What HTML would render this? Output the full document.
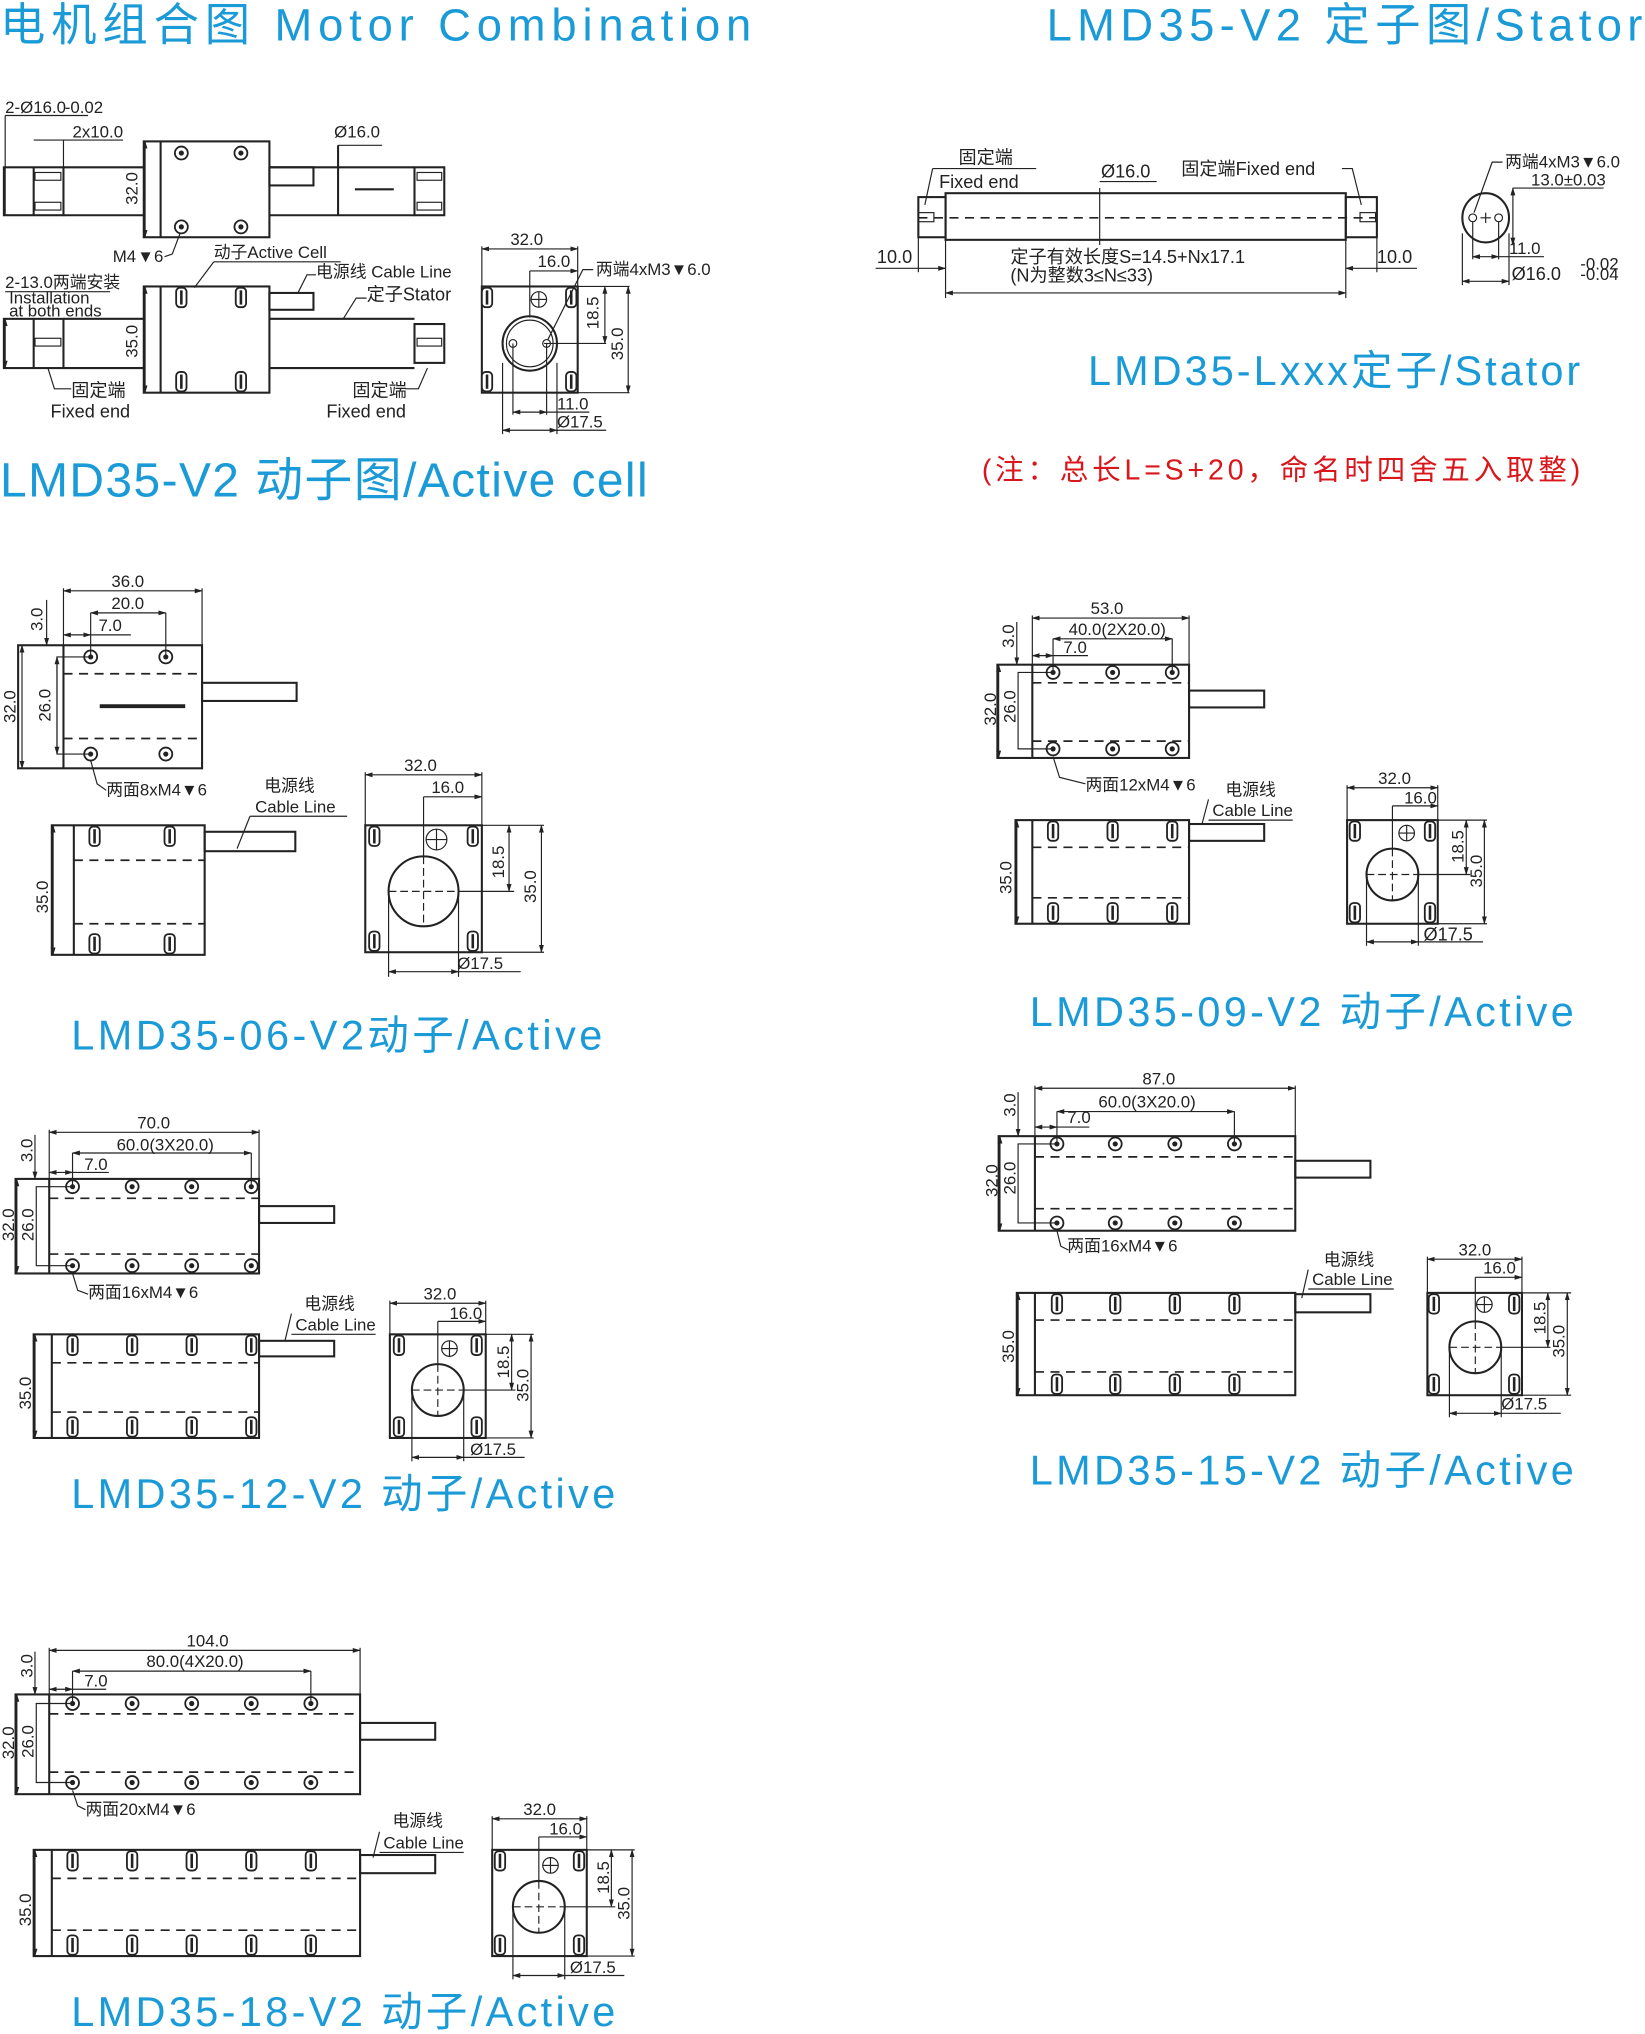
<!DOCTYPE html>
<html><head><meta charset="utf-8">
<style>
html,body{margin:0;padding:0;background:#fff;}
svg{display:block;}
.t{font-family:"Liberation Sans","Noto Sans CJK SC",sans-serif;fill:#1a9ad7;}
.d{font-family:"Liberation Sans Narrow","Liberation Sans","Noto Sans CJK SC",sans-serif;font-size:13px;fill:#222;}
.s{font-family:"Liberation Sans","Noto Sans CJK SC",sans-serif;font-size:14px;fill:#222;}
.l{stroke:#222;stroke-width:1.6;fill:none;}
.th{stroke:#222;stroke-width:0.9;fill:none;}
.da{stroke:#222;stroke-width:1.3;fill:none;stroke-dasharray:7,5;}
.cl{stroke:#222;stroke-width:0.9;fill:none;stroke-dasharray:6,3;}
</style></head><body>
<svg width="1645" height="2034" viewBox="0 0 1270 1570" xmlns="http://www.w3.org/2000/svg">
<defs>
<marker id="a" viewBox="0 0 10 10" refX="9" refY="5" markerWidth="7" markerHeight="7" orient="auto-start-reverse"><path d="M0,2 L10,5 L0,8 z" fill="#222"/></marker>
<g id="h"><circle r="5" fill="#fff" stroke="#222" stroke-width="1.4"/><circle r="2" fill="#222"/></g>
<g id="sd"><rect x="-4" y="0" width="8" height="15" rx="3" fill="#fff" stroke="#222" stroke-width="1.4"/><line x1="0" y1="2" x2="0" y2="13" stroke="#222" stroke-width="2"/></g>
<g id="su"><rect x="-4" y="-15" width="8" height="15" rx="3" fill="#fff" stroke="#222" stroke-width="1.4"/><line x1="0" y1="-13" x2="0" y2="-2" stroke="#222" stroke-width="2"/></g>
</defs>

<!-- TITLES -->
<text class="t" x="0" y="31" font-size="35" textLength="580" lengthAdjust="spacing">电机组合图 Motor Combination</text>
<text class="t" x="808" y="31" font-size="35" textLength="460" lengthAdjust="spacing">LMD35-V2 定子图/Stator</text>
<text class="t" x="840" y="297" font-size="32" textLength="380" lengthAdjust="spacing">LMD35-Lxxx定子/Stator</text>
<text x="758" y="370" font-size="22" fill="#d8161b" font-family="Liberation Sans,'Noto Sans CJK SC',sans-serif" textLength="462" lengthAdjust="spacing">(注：总长L=S+20，命名时四舍五入取整)</text>
<text class="t" x="0" y="383" font-size="37" textLength="500" lengthAdjust="spacing">LMD35-V2 动子图/Active cell</text>
<text class="t" x="55" y="810" font-size="32" textLength="410" lengthAdjust="spacing">LMD35-06-V2动子/Active</text>
<text class="t" x="795" y="792" font-size="32" textLength="420" lengthAdjust="spacing">LMD35-09-V2 动子/Active</text>
<text class="t" x="55" y="1164" font-size="32" textLength="420" lengthAdjust="spacing">LMD35-12-V2 动子/Active</text>
<text class="t" x="795" y="1146" font-size="32" textLength="420" lengthAdjust="spacing">LMD35-15-V2 动子/Active</text>
<text class="t" x="55" y="1564" font-size="32" textLength="420" lengthAdjust="spacing">LMD35-18-V2 动子/Active</text>

<!-- MOTOR COMBINATION top view -->
<g>
<rect class="l" x="3" y="129" width="46" height="37"/><line class="l" x1="26" y1="129" x2="26" y2="166"/>
<line class="l" x1="49" y1="129" x2="111" y2="129"/><line class="l" x1="49" y1="166" x2="111" y2="166"/>
<rect class="l" x="111" y="109" width="97" height="74"/><line class="l" x1="124" y1="109" x2="124" y2="183"/>
<rect class="l" x="208" y="129" width="34" height="14"/>
<line class="l" x1="208" y1="129" x2="320" y2="129"/><line class="l" x1="208" y1="166" x2="320" y2="166"/>
<rect class="l" x="320" y="129" width="23" height="37"/>
<line class="l" x1="261" y1="112" x2="261" y2="166"/><line class="th" x1="261" y1="112" x2="295" y2="112"/>
<line class="l" x1="274" y1="146" x2="304" y2="146"/>
<use href="#h" x="140" y="118"/><use href="#h" x="186" y="118"/><use href="#h" x="140" y="175"/><use href="#h" x="186" y="175"/>
<rect class="th" x="27" y="133" width="20" height="6"/><rect class="th" x="27" y="156" width="20" height="6"/>
<rect class="th" x="322" y="133" width="19" height="6"/><rect class="th" x="322" y="156" width="19" height="6"/>
<line class="th" x1="4" y1="89" x2="4" y2="166"/><line class="th" x1="4" y1="89" x2="68" y2="89"/>
<text class="d" x="4" y="87" font-size="11">2-Ø16.0</text><text class="d" x="50" y="87" font-size="7" fill="#777">-0.02</text>
<line class="th" x1="26" y1="108" x2="95" y2="108"/><line class="th" x1="49" y1="108" x2="49" y2="129"/>
<text class="d" x="56" y="106">2x10.0</text>
<line class="th" x1="112" y1="109" x2="112" y2="183" marker-start="url(#a)" marker-end="url(#a)"/>
<text class="d" transform="translate(106,158) rotate(-90)">32.0</text>
<text class="d" x="258" y="106">Ø16.0</text>
<text class="d" x="87" y="202">M4</text><text class="d" x="106" y="202">▼6</text>
<path class="th" d="M127,198 L133,196 L139,180"/>
</g>
<!-- motor combination bottom view -->
<g>
<rect class="l" x="3" y="246" width="46" height="38"/><line class="l" x1="26" y1="246" x2="26" y2="284"/>
<line class="l" x1="49" y1="246" x2="111" y2="246"/><line class="l" x1="49" y1="284" x2="111" y2="284"/>
<rect class="l" x="111" y="221" width="97" height="82"/><line class="l" x1="124" y1="221" x2="124" y2="303"/>
<rect class="l" x="208" y="226" width="34" height="13"/>
<line class="l" x1="208" y1="246" x2="320" y2="246"/><line class="l" x1="208" y1="284" x2="320" y2="284"/>
<rect class="l" x="320" y="250" width="23" height="30"/>
<use href="#sd" x="140" y="222"/><use href="#sd" x="186" y="222"/><use href="#su" x="140" y="302"/><use href="#su" x="186" y="302"/>
<rect class="th" x="27" y="261" width="20" height="6"/><rect class="th" x="322" y="261" width="19" height="6"/>
<line class="th" x1="112" y1="221" x2="112" y2="303" marker-start="url(#a)" marker-end="url(#a)"/>
<text class="d" transform="translate(106,276) rotate(-90)">35.0</text>
<line class="th" x1="4" y1="246" x2="4" y2="284" marker-start="url(#a)" marker-end="url(#a)"/>
<text class="d" x="4" y="222" font-size="11">2-13.0两端安装</text><line class="th" x1="4" y1="225" x2="85" y2="225"/>
<text class="d" x="7" y="234" font-size="10">Installation</text><text class="d" x="7" y="244" font-size="10">at both ends</text>
<text class="d" x="165" y="199">动子Active Cell</text><line class="th" x1="165" y1="202" x2="263" y2="202"/><path class="th" d="M165,202 L150,222"/>
<text class="d" x="244" y="214">电源线 Cable Line</text><path class="th" d="M244,212 L237,212 L230,226"/>
<text class="s" x="283" y="232">定子Stator</text><path class="th" d="M283,230 L275,230 L265,246"/>
<path class="th" d="M37,284 L42,300 L55,300"/><text class="s" x="55" y="306">固定端</text><text class="s" x="39" y="322" font-size="15">Fixed end</text>
<path class="th" d="M330,284 L323,300 L313,300"/><text class="s" x="272" y="306">固定端</text><text class="s" x="252" y="322" font-size="15">Fixed end</text>
</g>
<!-- motor combination end view -->
<g>
<rect class="l" x="372" y="221" width="74" height="82"/>
<circle class="l" cx="409" cy="265" r="21"/><circle class="th" cx="409" cy="265" r="18"/>
<circle class="th" cx="396" cy="265" r="3"/><circle class="th" cx="422" cy="265" r="3"/>
<circle class="th" cx="416" cy="231" r="6"/><line class="th" x1="410" y1="231" x2="422" y2="231"/><line class="th" x1="416" y1="225" x2="416" y2="237"/>
<use href="#sd" x="376" y="222"/><use href="#sd" x="441" y="222"/><use href="#su" x="376" y="302"/><use href="#su" x="441" y="302"/>
<line class="th" x1="372" y1="192" x2="446" y2="192" marker-start="url(#a)" marker-end="url(#a)"/><line class="th" x1="372" y1="190" x2="372" y2="221"/><line class="th" x1="446" y1="190" x2="446" y2="221"/>
<text class="d" x="394" y="189">32.0</text>
<line class="th" x1="409" y1="209" x2="446" y2="209" marker-end="url(#a)"/><line class="th" x1="409" y1="209" x2="409" y2="245"/>
<text class="d" x="415" y="206">16.0</text>
<text class="d" x="460" y="212" font-size="14">两端4xM3▼6.0</text><path class="th" d="M458,208 L450,208 L423,262"/>
<line class="th" x1="446" y1="221" x2="486" y2="221"/><line class="th" x1="446" y1="303" x2="486" y2="303"/><line class="th" x1="420" y1="265" x2="468" y2="265"/>
<line class="th" x1="467" y1="221" x2="467" y2="265" marker-start="url(#a)" marker-end="url(#a)"/><text class="d" transform="translate(462,254) rotate(-90)">18.5</text>
<line class="th" x1="485" y1="221" x2="485" y2="303" marker-start="url(#a)" marker-end="url(#a)"/><text class="d" transform="translate(481,278) rotate(-90)">35.0</text>
<line class="th" x1="396" y1="265" x2="396" y2="320"/><line class="th" x1="422" y1="265" x2="422" y2="320"/>
<line class="th" x1="396" y1="318" x2="422" y2="318" marker-start="url(#a)" marker-end="url(#a)"/><text class="d" x="430" y="316">11.0</text><line class="th" x1="422" y1="318" x2="455" y2="318"/>
<line class="th" x1="388" y1="280" x2="388" y2="335"/><line class="th" x1="430" y1="280" x2="430" y2="335"/>
<line class="th" x1="388" y1="332" x2="430" y2="332" marker-start="url(#a)" marker-end="url(#a)"/><text class="d" x="430" y="330">Ø17.5</text><line class="th" x1="430" y1="332" x2="468" y2="332"/>
</g>

<!-- STATOR -->
<g>
<rect class="l" x="730" y="149" width="309" height="36"/>
<rect class="l" x="709" y="152" width="21" height="31"/><rect class="l" x="1039" y="152" width="24" height="31"/>
<line class="da" x1="709" y1="168" x2="1063" y2="168"/>
<rect class="th" x="709" y="164" width="12" height="7"/><rect class="th" x="1050" y="164" width="12" height="7"/>
<line class="th" x1="849" y1="145" x2="849" y2="189"/><line class="th" x1="849" y1="140" x2="893" y2="140"/>
<text class="s" x="850" y="137" font-size="15">Ø16.0</text>
<text class="s" x="740" y="126">固定端</text><text class="s" x="725" y="145" font-size="15">Fixed end</text>
<line class="th" x1="720" y1="130" x2="800" y2="130"/><path class="th" d="M720,130 L714,158"/>
<text class="s" x="912" y="135">固定端Fixed end</text><path class="th" d="M1036,130 L1044,130 L1051,158"/>
<line class="th" x1="709" y1="183" x2="709" y2="210"/><line class="th" x1="1063" y1="183" x2="1063" y2="210"/>
<line class="th" x1="730" y1="185" x2="730" y2="230"/><line class="th" x1="1039" y1="185" x2="1039" y2="230"/>
<line class="th" x1="709" y1="207" x2="730" y2="207" marker-end="url(#a)"/><line class="th" x1="676" y1="207" x2="709" y2="207"/><text class="s" x="677" y="203">10.0</text>
<line class="th" x1="1039" y1="207" x2="1063" y2="207" marker-start="url(#a)"/><line class="th" x1="1063" y1="207" x2="1094" y2="207"/><text class="s" x="1063" y="203">10.0</text>
<line class="th" x1="730" y1="226" x2="1039" y2="226" marker-start="url(#a)" marker-end="url(#a)"/>
<text class="s" x="780" y="203">定子有效长度S=14.5+Nx17.1</text>
<text class="s" x="780" y="217">(N为整数3≤N≤33)</text>
<!-- end view -->
<ellipse class="l" cx="1147" cy="168" rx="18" ry="19"/>
<circle class="th" cx="1137" cy="168" r="3"/><circle class="th" cx="1157" cy="168" r="3"/>
<line class="th" x1="1143" y1="168" x2="1151" y2="168"/><line class="th" x1="1147" y1="164" x2="1147" y2="172"/>
<text class="d" x="1162" y="129" font-size="14">两端4xM3▼6.0</text><path class="th" d="M1160,125 L1152,125 L1138,164"/>
<text class="d" x="1182" y="143" font-size="12">13.0±0.03</text><line class="th" x1="1168" y1="145" x2="1238" y2="145"/>
<line class="th" x1="1168" y1="145" x2="1168" y2="189" marker-start="url(#a)" marker-end="url(#a)"/>
<line class="th" x1="1137" y1="171" x2="1137" y2="200"/><line class="th" x1="1157" y1="171" x2="1157" y2="200"/>
<line class="th" x1="1137" y1="198" x2="1157" y2="198" marker-start="url(#a)" marker-end="url(#a)"/><text class="d" x="1165" y="196" font-size="14">11.0</text><line class="th" x1="1157" y1="198" x2="1192" y2="198"/>
<line class="th" x1="1129" y1="180" x2="1129" y2="220"/><line class="th" x1="1165" y1="180" x2="1165" y2="220"/>
<line class="th" x1="1129" y1="217" x2="1165" y2="217" marker-start="url(#a)" marker-end="url(#a)"/>
<text class="s" x="1167" y="216" font-size="17">Ø16.0</text><text class="d" x="1220" y="208" font-size="8">-0.02</text><text class="d" x="1220" y="216" font-size="8">-0.04</text>
</g>

<!-- LMD35-06 -->
<g>
<rect class="l" x="14" y="498" width="142" height="95"/><line class="l" x1="49" y1="498" x2="49" y2="593"/>
<line class="da" x1="49" y1="520" x2="156" y2="520"/><line class="da" x1="49" y1="570" x2="156" y2="570"/>
<line x1="77" y1="545" x2="143" y2="545" stroke="#222" stroke-width="3"/>
<rect class="l" x="156" y="527" width="73" height="14"/>
<use href="#h" x="70" y="507"/><use href="#h" x="128" y="507"/><use href="#h" x="70" y="582"/><use href="#h" x="128" y="582"/>
<line class="th" x1="49" y1="456" x2="156" y2="456" marker-start="url(#a)" marker-end="url(#a)"/><line class="th" x1="49" y1="454" x2="49" y2="498"/><line class="th" x1="156" y1="454" x2="156" y2="498"/><text class="d" x="86" y="453">36.0</text>
<line class="th" x1="70" y1="473" x2="128" y2="473" marker-start="url(#a)" marker-end="url(#a)"/><line class="th" x1="70" y1="473" x2="70" y2="507"/><line class="th" x1="128" y1="473" x2="128" y2="507"/><text class="d" x="86" y="470">20.0</text>
<line class="th" x1="49" y1="490" x2="70" y2="490" marker-start="url(#a)" marker-end="url(#a)"/><line class="th" x1="70" y1="490" x2="101" y2="490"/><text class="d" x="76" y="487">7.0</text>
<line class="th" x1="36" y1="463" x2="36" y2="498" marker-end="url(#a)"/><text class="d" transform="translate(33,487) rotate(-90)">3.0</text>
<line class="th" x1="17" y1="498" x2="17" y2="593" marker-start="url(#a)" marker-end="url(#a)"/><text class="d" transform="translate(12,558) rotate(-90)">32.0</text>
<path class="th" d="M70,507 L44,507 L44,582 L70,582"/><line class="th" x1="44" y1="507" x2="44" y2="582" marker-start="url(#a)" marker-end="url(#a)"/><text class="d" transform="translate(39,557) rotate(-90)">26.0</text>
<path class="th" d="M70,587 L75,605 L82,610"/><text class="d" x="82" y="614">两面8xM4▼6</text>
<!-- bottom -->
<rect class="l" x="40" y="637" width="118" height="100"/><line class="l" x1="57" y1="637" x2="57" y2="737"/>
<line class="da" x1="57" y1="664" x2="158" y2="664"/><line class="da" x1="57" y1="713" x2="158" y2="713"/>
<rect class="l" x="158" y="642" width="70" height="15"/>
<use href="#sd" x="73" y="638"/><use href="#sd" x="131" y="638"/><use href="#su" x="73" y="736"/><use href="#su" x="131" y="736"/>
<line class="th" x1="41" y1="637" x2="41" y2="737" marker-start="url(#a)" marker-end="url(#a)"/><text class="d" transform="translate(37,705) rotate(-90)">35.0</text>
<text class="d" x="204" y="611">电源线</text><text class="d" x="197" y="627">Cable Line</text><line class="th" x1="193" y1="630" x2="268" y2="630"/><path class="th" d="M193,630 L183,655"/>
<!-- end -->
<rect class="l" x="282" y="637" width="90" height="98"/>
<circle class="l" cx="327" cy="688" r="27"/><line class="cl" x1="300" y1="688" x2="354" y2="688"/><line class="cl" x1="327" y1="661" x2="327" y2="715"/>
<circle class="th" cx="337" cy="648" r="8"/><line class="th" x1="329" y1="648" x2="345" y2="648"/><line class="th" x1="337" y1="640" x2="337" y2="656"/>
<use href="#sd" x="289" y="638"/><use href="#sd" x="365" y="638"/><use href="#su" x="289" y="734"/><use href="#su" x="365" y="734"/>
<line class="th" x1="282" y1="598" x2="372" y2="598" marker-start="url(#a)" marker-end="url(#a)"/><line class="th" x1="282" y1="596" x2="282" y2="637"/><line class="th" x1="372" y1="596" x2="372" y2="637"/><text class="d" x="312" y="595">32.0</text>
<line class="th" x1="327" y1="615" x2="372" y2="615" marker-end="url(#a)"/><line class="th" x1="327" y1="615" x2="327" y2="661"/><text class="d" x="333" y="612">16.0</text>
<line class="th" x1="372" y1="637" x2="420" y2="637"/><line class="th" x1="372" y1="735" x2="420" y2="735"/><line class="th" x1="354" y1="688" x2="397" y2="688"/>
<line class="th" x1="393" y1="637" x2="393" y2="688" marker-start="url(#a)" marker-end="url(#a)"/><text class="d" transform="translate(389,678) rotate(-90)">18.5</text>
<line class="th" x1="418" y1="637" x2="418" y2="735" marker-start="url(#a)" marker-end="url(#a)"/><text class="d" transform="translate(414,697) rotate(-90)">35.0</text>
<line class="th" x1="300" y1="688" x2="300" y2="754"/><line class="th" x1="354" y1="688" x2="354" y2="754"/>
<line class="th" x1="300" y1="750" x2="354" y2="750" marker-start="url(#a)" marker-end="url(#a)"/><line class="th" x1="354" y1="750" x2="402" y2="750"/><text class="d" x="353" y="748">Ø17.5</text>
</g>

<!-- LMD35-09 -->
<g>
<rect class="l" x="770" y="513" width="148" height="72"/><line class="l" x1="797" y1="513" x2="797" y2="585"/>
<line class="da" x1="797" y1="527" x2="918" y2="527"/><line class="da" x1="797" y1="572" x2="918" y2="572"/>
<rect class="l" x="918" y="533" width="58" height="13"/>
<use href="#h" x="813" y="519"/><use href="#h" x="859" y="519"/><use href="#h" x="905" y="519"/>
<use href="#h" x="813" y="578"/><use href="#h" x="859" y="578"/><use href="#h" x="905" y="578"/>
<line class="th" x1="797" y1="477" x2="918" y2="477" marker-start="url(#a)" marker-end="url(#a)"/><line class="th" x1="797" y1="475" x2="797" y2="513"/><line class="th" x1="918" y1="475" x2="918" y2="513"/><text class="d" x="842" y="474">53.0</text>
<line class="th" x1="813" y1="493" x2="905" y2="493" marker-start="url(#a)" marker-end="url(#a)"/><line class="th" x1="813" y1="493" x2="813" y2="519"/><line class="th" x1="905" y1="493" x2="905" y2="519"/><text class="d" x="825" y="490">40.0(2X20.0)</text>
<line class="th" x1="797" y1="506" x2="813" y2="506" marker-start="url(#a)" marker-end="url(#a)"/><line class="th" x1="813" y1="506" x2="840" y2="506"/><text class="d" x="821" y="504">7.0</text>
<line class="th" x1="785" y1="480" x2="785" y2="513" marker-end="url(#a)"/><text class="d" transform="translate(783,500) rotate(-90)">3.0</text>
<line class="th" x1="771" y1="513" x2="771" y2="585" marker-start="url(#a)" marker-end="url(#a)"/><text class="d" transform="translate(769,560) rotate(-90)">32.0</text>
<path class="th" d="M813,519 L786,519 L786,578 L813,578"/><text class="d" transform="translate(784,558) rotate(-90)">26.0</text>
<path class="th" d="M813,584 L818,600 L838,605"/><text class="d" x="838" y="610">两面12xM4▼6</text>
<rect class="l" x="784" y="633" width="134" height="80"/><line class="l" x1="797" y1="633" x2="797" y2="713"/>
<line class="da" x1="797" y1="654" x2="918" y2="654"/><line class="da" x1="797" y1="693" x2="918" y2="693"/>
<rect class="l" x="918" y="636" width="58" height="13"/>
<use href="#sd" x="813" y="634"/><use href="#sd" x="859" y="634"/><use href="#sd" x="905" y="634"/>
<use href="#su" x="813" y="712"/><use href="#su" x="859" y="712"/><use href="#su" x="905" y="712"/>
<line class="th" x1="785" y1="633" x2="785" y2="713" marker-start="url(#a)" marker-end="url(#a)"/><text class="d" transform="translate(781,690) rotate(-90)">35.0</text>
<text class="d" x="946" y="614">电源线</text><text class="d" x="936" y="630">Cable Line</text><line class="th" x1="933" y1="633" x2="998" y2="633"/><path class="th" d="M933,617 L928,636"/>
<rect class="l" x="1040" y="633" width="70" height="80"/>
<circle class="l" cx="1075" cy="675" r="20"/><line class="cl" x1="1055" y1="675" x2="1095" y2="675"/><line class="cl" x1="1075" y1="655" x2="1075" y2="695"/>
<circle class="th" cx="1086" cy="643" r="6"/><line class="th" x1="1080" y1="643" x2="1092" y2="643"/><line class="th" x1="1086" y1="637" x2="1086" y2="649"/>
<use href="#sd" x="1046" y="634"/><use href="#sd" x="1104" y="634"/><use href="#su" x="1046" y="712"/><use href="#su" x="1104" y="712"/>
<line class="th" x1="1040" y1="608" x2="1110" y2="608" marker-start="url(#a)" marker-end="url(#a)"/><line class="th" x1="1040" y1="606" x2="1040" y2="633"/><line class="th" x1="1110" y1="606" x2="1110" y2="633"/><text class="d" x="1064" y="605">32.0</text>
<line class="th" x1="1075" y1="622" x2="1110" y2="622" marker-end="url(#a)"/><line class="th" x1="1075" y1="622" x2="1075" y2="655"/><text class="d" x="1084" y="620">16.0</text>
<line class="th" x1="1110" y1="633" x2="1148" y2="633"/><line class="th" x1="1110" y1="713" x2="1148" y2="713"/><line class="th" x1="1095" y1="675" x2="1135" y2="675"/>
<line class="th" x1="1132" y1="633" x2="1132" y2="675" marker-start="url(#a)" marker-end="url(#a)"/><text class="d" transform="translate(1130,666) rotate(-90)">18.5</text>
<line class="th" x1="1146" y1="633" x2="1146" y2="713" marker-start="url(#a)" marker-end="url(#a)"/><text class="d" transform="translate(1144,685) rotate(-90)">35.0</text>
<line class="th" x1="1055" y1="675" x2="1055" y2="730"/><line class="th" x1="1095" y1="675" x2="1095" y2="730"/>
<line class="th" x1="1055" y1="727" x2="1095" y2="727" marker-start="url(#a)" marker-end="url(#a)"/><line class="th" x1="1095" y1="727" x2="1145" y2="727"/><text class="s" x="1099" y="726">Ø17.5</text>
</g>

<!-- LMD35-12 -->
<g>
<rect class="l" x="12" y="910" width="188" height="73"/><line class="l" x1="38" y1="910" x2="38" y2="983"/>
<line class="da" x1="38" y1="925" x2="200" y2="925"/><line class="da" x1="38" y1="968" x2="200" y2="968"/>
<rect class="l" x="200" y="931" width="58" height="13"/>
<use href="#h" x="56" y="916"/><use href="#h" x="102" y="916"/><use href="#h" x="148" y="916"/><use href="#h" x="194" y="916"/>
<use href="#h" x="56" y="977"/><use href="#h" x="102" y="977"/><use href="#h" x="148" y="977"/><use href="#h" x="194" y="977"/>
<line class="th" x1="38" y1="874" x2="200" y2="874" marker-start="url(#a)" marker-end="url(#a)"/><line class="th" x1="38" y1="872" x2="38" y2="910"/><line class="th" x1="200" y1="872" x2="200" y2="910"/><text class="d" x="106" y="871">70.0</text>
<line class="th" x1="56" y1="890" x2="194" y2="890" marker-start="url(#a)" marker-end="url(#a)"/><line class="th" x1="56" y1="890" x2="56" y2="916"/><line class="th" x1="194" y1="890" x2="194" y2="916"/><text class="d" x="90" y="888">60.0(3X20.0)</text>
<line class="th" x1="38" y1="905" x2="56" y2="905" marker-start="url(#a)" marker-end="url(#a)"/><line class="th" x1="56" y1="905" x2="84" y2="905"/><text class="d" x="65" y="903">7.0</text>
<line class="th" x1="27" y1="876" x2="27" y2="910" marker-end="url(#a)"/><text class="d" transform="translate(25,897) rotate(-90)">3.0</text>
<line class="th" x1="13" y1="910" x2="13" y2="983" marker-start="url(#a)" marker-end="url(#a)"/><text class="d" transform="translate(11,958) rotate(-90)">32.0</text>
<path class="th" d="M56,916 L28,916 L28,977 L56,977"/><text class="d" transform="translate(26,958) rotate(-90)">26.0</text>
<path class="th" d="M56,983 L60,996 L68,999"/><text class="d" x="68" y="1002">两面16xM4▼6</text>
<rect class="l" x="26" y="1030" width="174" height="80"/><line class="l" x1="40" y1="1030" x2="40" y2="1110"/>
<line class="da" x1="40" y1="1052" x2="200" y2="1052"/><line class="da" x1="40" y1="1090" x2="200" y2="1090"/>
<rect class="l" x="200" y="1035" width="58" height="12"/>
<use href="#sd" x="56" y="1031"/><use href="#sd" x="102" y="1031"/><use href="#sd" x="148" y="1031"/><use href="#sd" x="194" y="1031"/>
<use href="#su" x="56" y="1109"/><use href="#su" x="102" y="1109"/><use href="#su" x="148" y="1109"/><use href="#su" x="194" y="1109"/>
<line class="th" x1="27" y1="1030" x2="27" y2="1110" marker-start="url(#a)" marker-end="url(#a)"/><text class="d" transform="translate(24,1088) rotate(-90)" font-size="15">35.0</text>
<text class="d" x="235" y="1011">电源线</text><text class="d" x="228" y="1027">Cable Line</text><line class="th" x1="225" y1="1030" x2="290" y2="1030"/><path class="th" d="M225,1014 L220,1035"/>
<rect class="l" x="301" y="1030" width="74" height="80"/>
<circle class="l" cx="338" cy="1073" r="20"/><line class="cl" x1="318" y1="1073" x2="358" y2="1073"/><line class="cl" x1="338" y1="1053" x2="338" y2="1093"/>
<circle class="th" cx="347" cy="1041" r="6"/><line class="th" x1="341" y1="1041" x2="353" y2="1041"/><line class="th" x1="347" y1="1035" x2="347" y2="1047"/>
<use href="#sd" x="308" y="1031"/><use href="#sd" x="368" y="1031"/><use href="#su" x="308" y="1109"/><use href="#su" x="368" y="1109"/>
<line class="th" x1="301" y1="1006" x2="375" y2="1006" marker-start="url(#a)" marker-end="url(#a)"/><line class="th" x1="301" y1="1004" x2="301" y2="1030"/><line class="th" x1="375" y1="1004" x2="375" y2="1030"/><text class="d" x="327" y="1003">32.0</text>
<line class="th" x1="338" y1="1020" x2="375" y2="1020" marker-end="url(#a)"/><line class="th" x1="338" y1="1020" x2="338" y2="1053"/><text class="d" x="347" y="1018">16.0</text>
<line class="th" x1="375" y1="1030" x2="412" y2="1030"/><line class="th" x1="375" y1="1110" x2="412" y2="1110"/><line class="th" x1="358" y1="1073" x2="398" y2="1073"/>
<line class="th" x1="395" y1="1030" x2="395" y2="1073" marker-start="url(#a)" marker-end="url(#a)"/><text class="d" transform="translate(393,1064) rotate(-90)">18.5</text>
<line class="th" x1="410" y1="1030" x2="410" y2="1110" marker-start="url(#a)" marker-end="url(#a)"/><text class="d" transform="translate(408,1082) rotate(-90)">35.0</text>
<line class="th" x1="318" y1="1073" x2="318" y2="1128"/><line class="th" x1="358" y1="1073" x2="358" y2="1128"/>
<line class="th" x1="318" y1="1125" x2="358" y2="1125" marker-start="url(#a)" marker-end="url(#a)"/><line class="th" x1="358" y1="1125" x2="405" y2="1125"/><text class="d" x="363" y="1123">Ø17.5</text>
</g>

<!-- LMD35-15 -->
<g>
<rect class="l" x="771" y="877" width="229" height="73"/><line class="l" x1="799" y1="877" x2="799" y2="950"/>
<line class="da" x1="799" y1="893" x2="1000" y2="893"/><line class="da" x1="799" y1="933" x2="1000" y2="933"/>
<rect class="l" x="1000" y="896" width="58" height="13"/>
<use href="#h" x="816" y="883"/><use href="#h" x="861" y="883"/><use href="#h" x="907" y="883"/><use href="#h" x="953" y="883"/>
<use href="#h" x="816" y="944"/><use href="#h" x="861" y="944"/><use href="#h" x="907" y="944"/><use href="#h" x="953" y="944"/>
<line class="th" x1="799" y1="840" x2="1000" y2="840" marker-start="url(#a)" marker-end="url(#a)"/><line class="th" x1="799" y1="838" x2="799" y2="877"/><line class="th" x1="1000" y1="838" x2="1000" y2="877"/><text class="d" x="882" y="837">87.0</text>
<line class="th" x1="816" y1="858" x2="953" y2="858" marker-start="url(#a)" marker-end="url(#a)"/><line class="th" x1="816" y1="858" x2="816" y2="883"/><line class="th" x1="953" y1="858" x2="953" y2="883"/><text class="d" x="848" y="855">60.0(3X20.0)</text>
<line class="th" x1="799" y1="870" x2="816" y2="870" marker-start="url(#a)" marker-end="url(#a)"/><line class="th" x1="816" y1="870" x2="841" y2="870"/><text class="d" x="824" y="867">7.0</text>
<line class="th" x1="786" y1="843" x2="786" y2="877" marker-end="url(#a)"/><text class="d" transform="translate(784,862) rotate(-90)">3.0</text>
<line class="th" x1="772" y1="877" x2="772" y2="950" marker-start="url(#a)" marker-end="url(#a)"/><text class="d" transform="translate(770,924) rotate(-90)">32.0</text>
<path class="th" d="M816,883 L786,883 L786,944 L816,944"/><text class="d" transform="translate(784,922) rotate(-90)">26.0</text>
<path class="th" d="M816,950 L819,962 L825,965"/><text class="d" x="824" y="966">两面16xM4▼6</text>
<rect class="l" x="785" y="998" width="215" height="79"/><line class="l" x1="799" y1="998" x2="799" y2="1077"/>
<line class="da" x1="799" y1="1019" x2="1000" y2="1019"/><line class="da" x1="799" y1="1059" x2="1000" y2="1059"/>
<rect class="l" x="1000" y="999" width="58" height="14"/>
<use href="#sd" x="816" y="999"/><use href="#sd" x="861" y="999"/><use href="#sd" x="907" y="999"/><use href="#sd" x="953" y="999"/>
<use href="#su" x="816" y="1076"/><use href="#su" x="861" y="1076"/><use href="#su" x="907" y="1076"/><use href="#su" x="953" y="1076"/>
<line class="th" x1="786" y1="998" x2="786" y2="1077" marker-start="url(#a)" marker-end="url(#a)"/><text class="d" transform="translate(783,1052) rotate(-90)" font-size="15">35.0</text>
<text class="d" x="1022" y="977">电源线</text><text class="d" x="1013" y="992">Cable Line</text><line class="th" x1="1010" y1="995" x2="1076" y2="995"/><path class="th" d="M1010,980 L1005,1002"/>
<rect class="l" x="1102" y="998" width="73" height="79"/>
<circle class="l" cx="1139" cy="1040" r="20"/><line class="cl" x1="1119" y1="1040" x2="1159" y2="1040"/><line class="cl" x1="1139" y1="1020" x2="1139" y2="1060"/>
<circle class="th" cx="1146" cy="1007" r="6"/><line class="th" x1="1140" y1="1007" x2="1152" y2="1007"/><line class="th" x1="1146" y1="1001" x2="1146" y2="1013"/>
<use href="#sd" x="1107" y="999"/><use href="#sd" x="1169" y="999"/><use href="#su" x="1107" y="1076"/><use href="#su" x="1169" y="1076"/>
<line class="th" x1="1102" y1="972" x2="1175" y2="972" marker-start="url(#a)" marker-end="url(#a)"/><line class="th" x1="1102" y1="970" x2="1102" y2="998"/><line class="th" x1="1175" y1="970" x2="1175" y2="998"/><text class="d" x="1126" y="969">32.0</text>
<line class="th" x1="1139" y1="986" x2="1175" y2="986" marker-end="url(#a)"/><line class="th" x1="1139" y1="986" x2="1139" y2="1020"/><text class="d" x="1145" y="983">16.0</text>
<line class="th" x1="1175" y1="998" x2="1213" y2="998"/><line class="th" x1="1175" y1="1077" x2="1213" y2="1077"/><line class="th" x1="1159" y1="1040" x2="1197" y2="1040"/>
<line class="th" x1="1195" y1="998" x2="1195" y2="1040" marker-start="url(#a)" marker-end="url(#a)"/><text class="d" transform="translate(1193,1030) rotate(-90)">18.5</text>
<line class="th" x1="1210" y1="998" x2="1210" y2="1077" marker-start="url(#a)" marker-end="url(#a)"/><text class="d" transform="translate(1208,1048) rotate(-90)">35.0</text>
<line class="th" x1="1119" y1="1040" x2="1119" y2="1094"/><line class="th" x1="1159" y1="1040" x2="1159" y2="1094"/>
<line class="th" x1="1119" y1="1091" x2="1159" y2="1091" marker-start="url(#a)" marker-end="url(#a)"/><line class="th" x1="1159" y1="1091" x2="1205" y2="1091"/><text class="d" x="1159" y="1088">Ø17.5</text>
</g>

<!-- LMD35-18 -->
<g>
<rect class="l" x="12" y="1308" width="266" height="77"/><line class="l" x1="38" y1="1308" x2="38" y2="1385"/>
<line class="da" x1="38" y1="1323" x2="278" y2="1323"/><line class="da" x1="38" y1="1368" x2="278" y2="1368"/>
<rect class="l" x="278" y="1330" width="58" height="13"/>
<use href="#h" x="56" y="1315"/><use href="#h" x="102" y="1315"/><use href="#h" x="148" y="1315"/><use href="#h" x="194" y="1315"/><use href="#h" x="240" y="1315"/>
<use href="#h" x="56" y="1376"/><use href="#h" x="102" y="1376"/><use href="#h" x="148" y="1376"/><use href="#h" x="194" y="1376"/><use href="#h" x="240" y="1376"/>
<line class="th" x1="38" y1="1274" x2="278" y2="1274" marker-start="url(#a)" marker-end="url(#a)"/><line class="th" x1="38" y1="1272" x2="38" y2="1308"/><line class="th" x1="278" y1="1272" x2="278" y2="1308"/><text class="d" x="144" y="1271">104.0</text>
<line class="th" x1="56" y1="1290" x2="240" y2="1290" marker-start="url(#a)" marker-end="url(#a)"/><line class="th" x1="56" y1="1290" x2="56" y2="1315"/><line class="th" x1="240" y1="1290" x2="240" y2="1315"/><text class="d" x="113" y="1287">80.0(4X20.0)</text>
<line class="th" x1="38" y1="1304" x2="56" y2="1304" marker-start="url(#a)" marker-end="url(#a)"/><line class="th" x1="56" y1="1304" x2="82" y2="1304"/><text class="d" x="65" y="1302">7.0</text>
<line class="th" x1="27" y1="1275" x2="27" y2="1308" marker-end="url(#a)"/><text class="d" transform="translate(25,1295) rotate(-90)">3.0</text>
<line class="th" x1="13" y1="1308" x2="13" y2="1385" marker-start="url(#a)" marker-end="url(#a)"/><text class="d" transform="translate(11,1358) rotate(-90)">32.0</text>
<path class="th" d="M56,1315 L28,1315 L28,1376 L56,1376"/><text class="d" transform="translate(26,1357) rotate(-90)">26.0</text>
<path class="th" d="M56,1382 L60,1394 L66,1397"/><text class="d" x="66" y="1401">两面20xM4▼6</text>
<rect class="l" x="26" y="1428" width="252" height="82"/><line class="l" x1="40" y1="1428" x2="40" y2="1510"/>
<line class="da" x1="40" y1="1450" x2="278" y2="1450"/><line class="da" x1="40" y1="1490" x2="278" y2="1490"/>
<rect class="l" x="278" y="1432" width="58" height="14"/>
<use href="#sd" x="56" y="1429"/><use href="#sd" x="102" y="1429"/><use href="#sd" x="148" y="1429"/><use href="#sd" x="194" y="1429"/><use href="#sd" x="240" y="1429"/>
<use href="#su" x="56" y="1509"/><use href="#su" x="102" y="1509"/><use href="#su" x="148" y="1509"/><use href="#su" x="194" y="1509"/><use href="#su" x="240" y="1509"/>
<line class="th" x1="27" y1="1428" x2="27" y2="1510" marker-start="url(#a)" marker-end="url(#a)"/><text class="d" transform="translate(24,1487) rotate(-90)" font-size="15">35.0</text>
<text class="d" x="303" y="1410">电源线</text><text class="d" x="296" y="1427">Cable Line</text><line class="th" x1="293" y1="1430" x2="358" y2="1430"/><path class="th" d="M293,1414 L288,1434"/>
<rect class="l" x="380" y="1428" width="73" height="82"/>
<circle class="l" cx="416" cy="1472" r="20"/><line class="cl" x1="396" y1="1472" x2="436" y2="1472"/><line class="cl" x1="416" y1="1452" x2="416" y2="1492"/>
<circle class="th" cx="425" cy="1440" r="6"/><line class="th" x1="419" y1="1440" x2="431" y2="1440"/><line class="th" x1="425" y1="1434" x2="425" y2="1446"/>
<use href="#sd" x="386" y="1429"/><use href="#sd" x="447" y="1429"/><use href="#su" x="386" y="1509"/><use href="#su" x="447" y="1509"/>
<line class="th" x1="380" y1="1404" x2="453" y2="1404" marker-start="url(#a)" marker-end="url(#a)"/><line class="th" x1="380" y1="1402" x2="380" y2="1428"/><line class="th" x1="453" y1="1402" x2="453" y2="1428"/><text class="d" x="404" y="1401">32.0</text>
<line class="th" x1="416" y1="1418" x2="453" y2="1418" marker-end="url(#a)"/><line class="th" x1="416" y1="1418" x2="416" y2="1452"/><text class="d" x="424" y="1416">16.0</text>
<line class="th" x1="453" y1="1428" x2="490" y2="1428"/><line class="th" x1="453" y1="1510" x2="490" y2="1510"/><line class="th" x1="436" y1="1472" x2="475" y2="1472"/>
<line class="th" x1="472" y1="1428" x2="472" y2="1472" marker-start="url(#a)" marker-end="url(#a)"/><text class="d" transform="translate(470,1462) rotate(-90)">18.5</text>
<line class="th" x1="488" y1="1428" x2="488" y2="1510" marker-start="url(#a)" marker-end="url(#a)"/><text class="d" transform="translate(486,1482) rotate(-90)">35.0</text>
<line class="th" x1="396" y1="1472" x2="396" y2="1528"/><line class="th" x1="436" y1="1472" x2="436" y2="1528"/>
<line class="th" x1="396" y1="1525" x2="436" y2="1525" marker-start="url(#a)" marker-end="url(#a)"/><line class="th" x1="436" y1="1525" x2="482" y2="1525"/><text class="d" x="440" y="1523">Ø17.5</text>
</g>
</svg>
</body></html>
